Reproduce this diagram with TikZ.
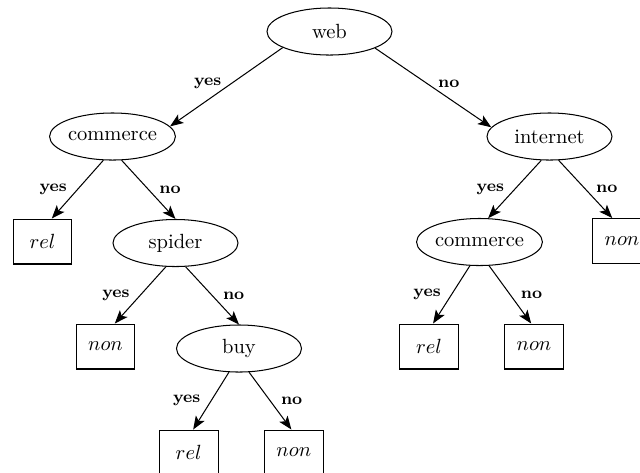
\documentclass[tikz,border=0pt]{standalone}
\usepackage{tikz}
\usetikzlibrary{arrows.meta, shapes.geometric, positioning}
\tikzset{
  test/.style={ellipse, draw, line width=0.5pt, minimum width=60.9pt, minimum height=22.9pt, inner sep=0pt},
  leaf/.style={rectangle, draw, line width=0.5pt, minimum width=28.7pt, minimum height=21.9pt, inner sep=0pt},
  branch/.style={-{Stealth[length=6.5pt,width=5pt,inset=1.5pt]}, line width=0.5pt},
  lbl/.style={font=\footnotesize\bfseries, inner sep=1pt}
}

\begin{document}
\begin{tikzpicture}[x=0.487pt, y=-0.487pt]
  \tikzset{yeslbl/.style={lbl, left=4pt}};
  \tikzset{nolbl/.style={lbl, right=4pt}};
  \useasboundingbox (0,0) rectangle (640,472);

  % tests
  \node[test] (web) at (329.5,31.5) {web};
  \node[test] (comL) at (112.5,136.5) {commerce};
  \node[test] (inet) at (549.5,136.5) {internet};
  \node[test] (spider) at (175.5,243) {spider};
  \node[test] (comR) at (479.5,242) {commerce};
  \node[test] (buy) at (239,348.5) {buy};

  % leaves
  \node[leaf] (rel1) at (42.5,241.5) {$rel$};
  \node[leaf] (non1) at (622,241) {$non$};
  \node[leaf] (non2) at (105.5,346.5) {$non$};
  \node[leaf] (rel2) at (429,346.5) {$rel$};
  \node[leaf] (non3) at (534,346.5) {$non$};
  \node[leaf] (rel3) at (188.7,452.5) {$rel$};
  \node[leaf] (non4) at (293.8,452.5) {$non$};

  % web
  \draw[branch] (web.199) -- node[yeslbl, pos=0.45] {yes} (comL.10);
  \draw[branch] (web.340) -- node[nolbl, pos=0.45] {no} (inet.171);

  % commerce (left)
  \draw[branch] (comL.249) -- node[yeslbl] {yes} (rel1.68);
  \draw[branch] (comL.291) -- node[nolbl] {no} (spider.north);

  % internet
  \draw[branch] (inet.251) -- node[yeslbl] {yes} (comR.70);
  \draw[branch] (inet.291) -- node[nolbl] {no} (non1.113);

  % spider
  \draw[branch] (spider.248) -- node[yeslbl] {yes} (non2.68);
  \draw[branch] (spider.293) -- node[nolbl] {no} (buy.north);

  % buy
  \draw[branch] (buy.247) -- node[yeslbl] {yes} (rel3.79);
  \draw[branch] (buy.293) -- node[nolbl] {no} (non4.96);

  % commerce (right)
  \draw[branch] (comR.248) -- node[yeslbl] {yes} (rel2.80);
  \draw[branch] (comR.292) -- node[nolbl] {no} (non3.97);
\end{tikzpicture}
\end{document}
